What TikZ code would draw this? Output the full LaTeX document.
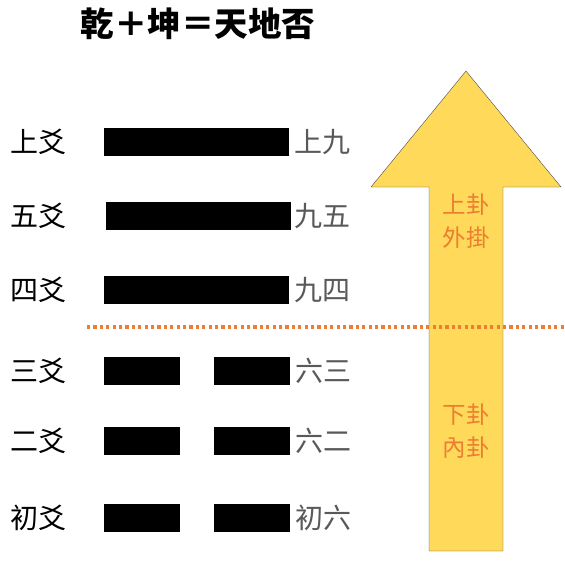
\documentclass[tikz,border=0pt]{standalone}
\usepackage{fontspec}
\newfontfamily\cjk{Noto Sans CJK TC}
\usetikzlibrary{positioning}
\definecolor{arrowfill}{RGB}{255,217,90}
\definecolor{guaorange}{RGB}{237,125,49}
\definecolor{valgray}{RGB}{89,89,89}
\tikzset{
  yang/.style={fill=black,inner sep=0pt,minimum width=185pt,minimum height=28pt},
  yin/.style={fill=black,inner sep=0pt,minimum width=76pt,minimum height=28pt},
  yaoname/.style={font=\cjk\fontsize{28}{28}\selectfont,inner sep=0pt,anchor=west},
  yaoval/.style={font=\cjk\fontsize{28}{28}\selectfont,inner sep=0pt,text=valgray},
  guatext/.style={font=\cjk\fontsize{23.5}{33}\selectfont,text=guaorange,align=center}
}

\begin{document}
\begin{tikzpicture}[x=1pt,y=-1pt]
\useasboundingbox (0,0) rectangle (565,562);

% title
\node[font=\cjk\bfseries\fontsize{33.5}{33.5}\selectfont] (title) at (198,24) {乾＋坤＝天地否};

% arrow
\draw[fill=arrowfill,draw=black!70,line width=0.4pt]
  (429,551) -- (429,187) -- (371,187) -- (466,71) -- (561,187)
  -- (503,187) -- (503,551) -- cycle;
\node[guatext] (upper) at (466,221) {上卦\\外掛};
\node[guatext] (lower) at (466,431) {下卦\\內卦};

% divider
\coordinate (divl) at (87,327);
\coordinate (divr) at (565,327);
\draw[guaorange,line width=3.5pt,dash pattern=on 3.2pt off 3.2pt] (divl) -- (divr);

% upper lines
\node[yang] (line6) at (196.5,142) {};
\node[yang] (line5) at (198.5,216) {};
\node[yang] (line4) at (196.5,290) {};
% lower lines
\node[yin] (line3a) at (142,370.5) {};
\node[yin] (line3b) at (252,370.5) {};
\node[yin] (line2a) at (142,441) {};
\node[yin] (line2b) at (252,441) {};
\node[yin] (line1a) at (142,517.5) {};
\node[yin] (line1b) at (252,517.5) {};

% names
\node[yaoname] (name6) at (10,142) {上爻};
\node[yaoname] (name5) at (10,216) {五爻};
\node[yaoname] (name4) at (10,290) {四爻};
\node[yaoname] (name3) at (10,370.5) {三爻};
\node[yaoname] (name2) at (10,441) {二爻};
\node[yaoname] (name1) at (10,517.5) {初爻};

% values
\node[yaoval,right=5pt of line6] (val6) {上九};
\node[yaoval,right=3pt of line5] (val5) {九五};
\node[yaoval,right=5pt of line4] (val4) {九四};
\node[yaoval,right=5pt of line3b] (val3) {六三};
\node[yaoval,right=5pt of line2b] (val2) {六二};
\node[yaoval,right=5pt of line1b] (val1) {初六};
\end{tikzpicture}
\end{document}
